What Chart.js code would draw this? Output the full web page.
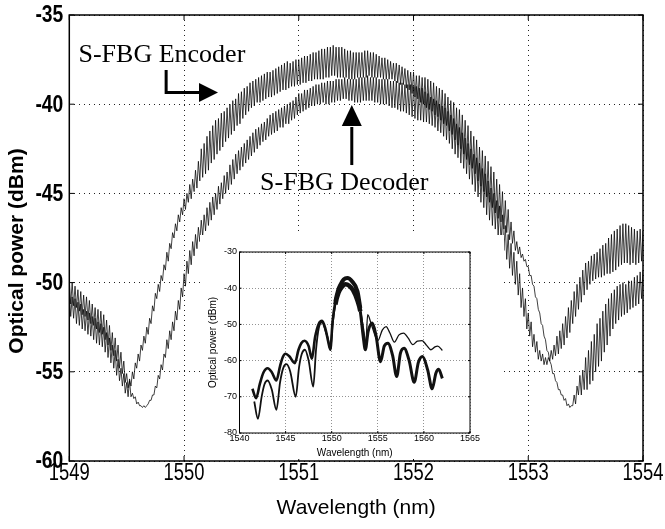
<!DOCTYPE html>
<html>
<head>
<meta charset="utf-8">
<script src="https://cdn.jsdelivr.net/npm/chart.js@4.4.0/dist/chart.umd.min.js"></script>
<style>
  html, body { margin: 0; padding: 0; background: #fff; }
  #wrap { position: relative; width: 665px; height: 529px; }
  #mycanvas { position: absolute; left: 0; top: 0; }
  #insetcanvas { position: absolute; left: 200px; top: 235px; background: #fff; }
</style>
</head>
<body>
<div id="wrap">
  <canvas id="mycanvas" width="665" height="529"></canvas>
  <canvas id="insetcanvas" width="304" height="224"></canvas>
</div>
<script>
// main plot: 1549-1554 nm, samples evenly spaced across the span
var wlStart = 1549;
var wlEnd = 1554;

var encoderDbm = [
  -50.6,-51.9,-50.8,-52.0, -50.9,-52.3,-51.1,-52.4, -51.2,-52.6,-51.5,-52.7, -51.6,-52.9,-51.7,-53.0,
  -51.9,-53.2,-52.0,-53.4, -52.2,-53.5,-52.3,-53.6, -52.5,-53.9,-52.8,-54.2, -53.1,-54.5,-53.5,-54.8,
  -53.8,-55.2,-54.3,-55.5, -54.8,-55.8,-55.1,-56.2, -55.6,-56.4,-55.4,-55.8, -55.0,-55.4,-54.5,-54.8,
  -54.0,-54.4,-53.5,-53.8, -53.0,-53.4,-52.5,-52.9, -52.0,-52.3,-51.3,-51.6, -50.6,-50.9,-50.1,-50.5,
  -49.6,-49.9,-49.0,-49.3, -48.3,-48.8,-47.8,-48.1, -47.2,-47.5,-46.7,-47.1, -46.2,-46.6,-45.8,-46.2,
  -45.3,-45.9,-45.0,-45.5, -44.5,-45.3,-44.2,-44.9, -43.7,-44.7,-43.2,-44.3, -42.5,-44.1,-42.2,-43.9,
  -41.8,-43.7,-41.5,-43.3, -41.2,-43.1,-40.9,-42.8, -40.8,-42.6,-40.5,-42.4, -40.4,-42.1,-40.2,-41.9,
  -40.0,-41.7,-39.8,-41.5, -39.7,-41.2,-39.4,-41.1, -39.3,-40.8,-39.1,-40.6, -39.0,-40.4,-38.8,-40.2,
  -38.7,-40.1,-38.6,-39.9, -38.5,-39.9,-38.4,-39.8, -38.3,-39.7,-38.2,-39.6, -38.2,-39.6,-38.1,-39.5,
  -38.0,-39.4,-37.9,-39.3, -37.8,-39.2,-37.7,-39.2, -37.6,-39.1,-37.7,-39.0, -37.6,-39.0,-37.5,-38.9,
  -37.5,-38.9,-37.4,-38.8, -37.3,-38.8,-37.3,-38.7, -37.2,-38.7,-37.1,-38.6, -37.1,-38.6,-37.0,-38.6,
  -36.9,-38.6,-36.9,-38.5, -36.8,-38.5,-36.8,-38.4, -36.7,-38.4,-36.8,-38.5, -36.8,-38.5,-36.8,-38.5,
  -36.9,-38.5,-37.0,-38.6, -37.0,-38.6,-37.1,-38.6, -37.1,-38.5,-37.1,-38.5, -37.1,-38.5,-37.0,-38.5,
  -37.0,-38.4,-37.1,-38.5, -37.1,-38.5,-37.2,-38.5, -37.3,-38.5,-37.4,-38.6, -37.4,-38.6,-37.5,-38.6,
  -37.6,-38.6,-37.7,-38.7, -37.7,-38.8,-37.8,-38.9, -37.9,-38.9,-38.0,-39.1, -38.1,-39.2,-38.2,-39.4,
  -38.2,-39.6,-38.4,-39.7, -38.4,-39.9,-38.5,-40.0, -38.5,-40.2,-38.6,-40.3, -38.7,-40.4,-38.8,-40.6,
  -39.0,-40.7,-39.1,-40.9, -39.2,-41.1,-39.4,-41.2, -39.6,-41.5,-39.8,-41.7, -39.9,-42.0,-40.2,-42.3,
  -40.3,-42.5,-40.6,-42.8, -40.9,-43.1,-41.2,-43.4, -41.5,-43.6,-41.8,-43.9, -42.0,-44.3,-42.4,-44.6,
  -42.6,-44.9,-42.9,-45.2, -43.2,-45.5,-43.5,-45.8, -43.8,-46.1,-44.2,-46.4, -44.5,-46.6,-44.9,-47.0,
  -45.4,-47.2,-45.9,-47.6, -46.6,-47.8,-47.1,-48.2, -47.7,-48.4,-48.0,-48.6, -48.4,-48.8,-48.7,-49.1,
  -49.1,-49.6,-49.6,-50.1, -50.2,-50.8,-50.9,-51.5, -51.7,-52.3,-52.4,-53.0, -53.2,-53.8,-53.9,-54.4,
  -54.6,-55.1,-55.1,-55.5, -55.6,-56.0,-56.0,-56.3, -56.3,-56.6,-56.5,-56.9, -56.8,-57.0,-56.9,-56.9,
  -56.3,-56.8,-55.8,-56.3, -55.2,-56.3,-54.9,-56.0, -54.2,-56.0,-53.8,-55.7, -53.3,-55.5,-52.9,-55.0,
  -52.3,-54.7,-52.0,-54.4, -51.6,-53.9,-51.2,-53.5, -50.9,-53.0,-50.6,-52.6, -50.4,-52.3,-50.2,-52.1,
  -50.1,-51.9,-50.0,-51.8, -50.1,-51.7,-49.9,-51.5, -49.9,-51.4,-49.7,-51.3, -49.6,-51.2,-49.4,-50.9,
  -49.3
];

var decoderDbm = [
  -49.9,-51.2,-50.0,-51.3, -50.2,-51.4,-50.4,-51.6, -50.5,-51.8,-50.7,-51.9, -50.8,-52.1,-51.0,-52.3,
  -51.2,-52.4,-51.4,-52.6, -51.5,-52.8,-51.6,-52.9, -51.8,-53.2,-52.1,-53.5, -52.4,-53.8,-52.8,-54.1,
  -53.1,-54.4,-53.5,-54.8, -53.9,-55.1,-54.4,-55.6, -55.1,-55.9,-55.5,-56.4, -56.2,-56.5,-56.4,-56.8,
  -56.7,-56.9,-56.9,-57.0, -56.9,-57.0,-56.9,-56.8, -56.6,-56.6,-56.3,-56.3, -55.8,-55.9,-55.2,-55.4,
  -54.6,-54.9,-54.0,-54.2, -53.2,-53.7,-52.7,-53.2, -52.2,-52.7,-51.6,-52.1, -51.0,-51.5,-50.3,-50.8,
  -49.5,-50.2,-48.8,-49.5, -48.2,-49.0,-47.7,-48.5, -47.3,-48.1,-46.9,-47.7, -46.5,-47.4,-46.2,-47.1,
  -45.8,-46.8,-45.5,-46.5, -45.2,-46.2,-45.0,-45.9, -44.6,-45.6,-44.4,-45.3, -44.0,-45.0,-43.8,-44.8,
  -43.4,-44.5,-43.1,-44.2, -42.8,-43.9,-42.6,-43.7, -42.4,-43.5,-42.2,-43.3, -42.0,-43.1,-41.8,-42.9,
  -41.6,-42.7,-41.4,-42.5, -41.3,-42.3,-41.1,-42.1, -41.0,-42.0,-40.8,-41.8, -40.6,-41.7,-40.5,-41.6,
  -40.4,-41.5,-40.3,-41.3, -40.2,-41.3,-40.1,-41.1, -40.0,-41.1,-39.9,-40.9, -39.8,-40.8,-39.6,-40.6,
  -39.4,-40.5,-39.4,-40.4, -39.2,-40.3,-39.2,-40.2, -39.1,-40.1,-39.0,-40.1, -38.9,-40.0,-38.9,-40.0,
  -38.8,-39.9,-38.8,-40.0, -38.7,-40.0,-38.7,-39.9, -38.7,-39.9,-38.6,-39.8, -38.6,-39.8,-38.6,-39.7,
  -38.5,-39.7,-38.6,-39.8, -38.6,-39.8,-38.6,-39.9, -38.6,-39.9,-38.5,-39.9, -38.5,-39.8,-38.5,-39.8,
  -38.4,-39.8,-38.5,-39.8, -38.5,-39.9,-38.5,-39.9, -38.6,-40.0,-38.6,-40.0, -38.6,-40.0,-38.6,-40.1,
  -38.7,-40.2,-38.7,-40.2, -38.7,-40.3,-38.8,-40.4, -38.8,-40.4,-38.9,-40.5, -38.9,-40.6,-38.9,-40.7,
  -39.0,-40.8,-39.0,-40.9, -39.1,-40.9,-39.1,-41.0, -39.3,-41.0,-39.4,-41.1, -39.6,-41.2,-39.7,-41.3,
  -39.8,-41.5,-40.0,-41.6, -40.1,-41.8,-40.2,-42.0, -40.4,-42.2,-40.6,-42.5, -40.8,-42.8,-41.1,-43.0,
  -41.3,-43.3,-41.6,-43.6, -41.9,-43.9,-42.2,-44.2, -42.5,-44.5,-42.8,-44.9, -43.0,-45.2,-43.3,-45.5,
  -43.6,-45.8,-43.9,-46.2, -44.3,-46.5,-44.7,-46.8, -45.0,-47.0,-45.4,-47.4, -45.7,-47.8,-46.2,-48.2,
  -46.8,-48.7,-47.3,-49.2, -47.8,-49.6,-48.3,-50.1, -48.8,-50.7,-49.5,-51.4, -50.3,-51.9,-50.9,-52.6,
  -51.7,-53.0,-52.2,-53.6, -52.9,-53.9,-53.3,-54.3, -53.8,-54.4,-54.0,-54.6, -54.2,-54.6,-54.2,-54.4,
  -53.8,-54.3,-53.5,-54.1, -53.0,-54.0,-52.7,-53.7, -52.3,-53.5,-51.9,-53.1, -51.4,-52.8,-51.0,-52.3,
  -50.5,-51.9,-50.1,-51.5, -49.7,-51.1,-49.3,-50.7, -48.9,-50.4,-48.8,-50.1, -48.5,-49.9,-48.4,-49.8,
  -48.3,-49.7,-48.1,-49.7, -47.9,-49.6,-47.8,-49.5, -47.5,-49.5,-47.3,-49.4, -47.1,-49.3,-47.0,-49.1,
  -46.8,-49.0,-46.7,-48.9, -46.7,-48.9,-46.8,-49.0, -46.9,-48.9,-47.0,-49.0, -47.1,-48.9,-47.0,-48.8,
  -47.1
];

var mainXTicks = [1549, 1550, 1551, 1552, 1553, 1554];
var mainYTicks = [-60, -55, -50, -45, -40, -35];

// inset: full spectrum 1540-1565 nm
var insetWlEnc = [1541.4, 1541.8, 1542.2, 1542.6, 1543.05, 1543.5, 1544.0, 1544.4, 1544.7, 1545.0, 1545.4, 1546.0,
  1546.4, 1546.7, 1547.05, 1547.5, 1547.85, 1548.2, 1548.6, 1548.95, 1549.3, 1549.6, 1549.85, 1550.1, 1550.4,
  1550.7, 1550.95, 1551.3, 1551.7, 1552.2, 1552.8, 1553.1, 1553.5, 1553.7, 1553.9, 1554.3, 1555.0, 1555.5,
  1555.9, 1556.3, 1556.8, 1557.3, 1557.8, 1558.3, 1558.8, 1559.3, 1559.8, 1560.3, 1560.75, 1561.2, 1561.5, 1562.0];
var insetEnc = [-67.8, -70.4, -66.5, -63.3, -62.1, -63.2, -65.5, -61.5, -59.0, -58.1, -58.8, -60.7,
  -57.0, -55.2, -54.5, -56.0, -59.5, -53.5, -49.8, -49.0, -51.0, -54.5, -57.0, -49.0, -43.7,
  -40.5, -39.0, -37.6, -37.2, -38.1, -40.9, -45.5, -52.0, -55.6, -47.3, -50.0, -54.5, -51.5,
  -50.6, -52.3, -54.9, -52.9, -52.4, -53.8, -55.6, -54.6, -54.5, -55.8, -57.0, -56.2, -56.0, -57.2];

var insetWlDec = [1541.6, 1542.0, 1542.4, 1542.7, 1543.05, 1543.5, 1544.0, 1544.4, 1544.75, 1545.1, 1545.5, 1546.1,
  1546.45, 1546.75, 1547.1, 1547.5, 1548.0, 1548.3, 1548.6, 1548.95, 1549.3, 1549.6, 1549.85, 1550.1, 1550.4,
  1550.75, 1551.1, 1551.5, 1551.9, 1552.3, 1552.8, 1553.1, 1553.4, 1553.65, 1553.95, 1554.4, 1554.8, 1555.3,
  1555.7, 1556.1, 1556.6, 1557.05, 1557.45, 1557.85, 1558.4, 1558.95, 1559.4, 1559.85, 1560.4, 1560.9, 1561.3, 1561.6, 1562.0];
var insetDec = [-71.3, -76.1, -70.0, -66.6, -65.5, -68.0, -73.6, -66.0, -62.0, -61.0, -63.0, -70.0,
  -62.0, -58.2, -57.0, -60.0, -67.2, -57.0, -51.0, -49.4, -51.5, -54.0, -57.0, -50.0, -44.5,
  -41.2, -39.7, -38.9, -39.3, -40.5, -43.5, -46.4, -53.0, -57.0, -52.0, -49.6, -53.0, -60.3,
  -56.0, -55.2, -58.5, -64.4, -58.0, -56.6, -60.0, -66.0, -60.5, -58.9, -62.5, -67.8, -63.5, -62.4, -64.9];

var insetXTicks = [1540, 1545, 1550, 1555, 1560, 1565];
var insetYTicks = [-80, -70, -60, -50, -40, -30];

// labels and arrows, in data units (nm, dBm)
var encoderNote = { text: 'S-FBG Encoder', x: 1549.08, y: -37.63 };
var decoderNote = { text: 'S-FBG Decoder', x: 1550.663, y: -44.81 };
var encoderArrow = [[1549.844, -38.08], [1549.844, -39.34], [1550.296, -39.34]];
var decoderArrow = [[1551.462, -43.41], [1551.462, -40.045]];

var sansFont = "'Liberation Sans', Arial, Helvetica, sans-serif";

function evenPoints(vals, a, b) {
  var pts = [];
  for (var i = 0; i < vals.length; i++) {
    pts.push({ x: a + (b - a) * i / (vals.length - 1), y: vals[i] });
  }
  return pts;
}

function pairPoints(xs, ys) {
  var pts = [];
  for (var i = 0; i < xs.length; i++) pts.push({ x: xs[i], y: ys[i] });
  return pts;
}

function setTicks(list) {
  return function(scale) {
    scale.ticks = list.map(function(v) { return { value: v }; });
  };
}

// the original uses a condensed face for the tick numbers
function narrowText(c, text, x, y, align, squeeze) {
  c.save();
  c.translate(x, y);
  c.scale(squeeze, 1);
  c.textAlign = align;
  c.textBaseline = 'middle';
  c.fillText(text, 0, 0);
  c.restore();
}

function arrowHead(ctx, fx, fy, tx, ty, len, half) {
  var ang = Math.atan2(ty - fy, tx - fx);
  var bx = tx - len * Math.cos(ang), by = ty - len * Math.sin(ang);
  ctx.beginPath();
  ctx.moveTo(tx, ty);
  ctx.lineTo(bx + half * Math.sin(ang), by - half * Math.cos(ang));
  ctx.lineTo(bx - half * Math.sin(ang), by + half * Math.cos(ang));
  ctx.closePath();
  ctx.fill();
  return [bx, by];
}

function boxAndTicks(chart, xList, yList, tick, width) {
  var c = chart.ctx, a = chart.chartArea, sx = chart.scales.x, sy = chart.scales.y;
  c.save();
  c.strokeStyle = '#000';
  c.lineWidth = 1;
  xList.forEach(function(v) {
    var p = sx.getPixelForValue(v);
    c.beginPath();
    c.moveTo(p, a.bottom); c.lineTo(p, a.bottom - tick);
    c.moveTo(p, a.top); c.lineTo(p, a.top + tick);
    c.stroke();
  });
  yList.forEach(function(v) {
    var p = sy.getPixelForValue(v);
    c.beginPath();
    c.moveTo(a.left, p); c.lineTo(a.left + tick, p);
    c.moveTo(a.right, p); c.lineTo(a.right - tick, p);
    c.stroke();
  });
  c.lineWidth = width;
  c.strokeRect(a.left, a.top, a.right - a.left, a.bottom - a.top);
  c.restore();
}

var mainDecor = {
  id: 'mainDecor',
  afterDatasetsDraw: function(chart) {
    var c = chart.ctx, a = chart.chartArea, sx = chart.scales.x, sy = chart.scales.y;
    boxAndTicks(chart, mainXTicks, mainYTicks, 5, 1.5);

    c.save();
    c.fillStyle = '#000';
    c.font = '23px ' + sansFont;
    mainXTicks.forEach(function(v) {
      narrowText(c, String(v), sx.getPixelForValue(v), a.bottom + 13, 'center', 0.8);
    });
    c.font = 'bold 23px ' + sansFont;
    mainYTicks.forEach(function(v) {
      narrowText(c, String(v), a.left - 6, sy.getPixelForValue(v) + 1, 'right', 0.84);
    });

    c.strokeStyle = '#000';
    c.font = "26px 'Liberation Serif', 'Times New Roman', serif";
    c.textAlign = 'left';
    c.textBaseline = 'alphabetic';
    c.fillText(encoderNote.text, sx.getPixelForValue(encoderNote.x), sy.getPixelForValue(encoderNote.y));
    c.fillText(decoderNote.text, sx.getPixelForValue(decoderNote.x), sy.getPixelForValue(decoderNote.y));

    var e = encoderArrow.map(function(p) { return [sx.getPixelForValue(p[0]), sy.getPixelForValue(p[1])]; });
    var d = decoderArrow.map(function(p) { return [sx.getPixelForValue(p[0]), sy.getPixelForValue(p[1])]; });
    c.lineWidth = 3;
    var eb = arrowHead(c, e[1][0], e[1][1], e[2][0], e[2][1], 19, 9.5);
    c.beginPath();
    c.moveTo(e[0][0], e[0][1]);
    c.lineTo(e[1][0], e[1][1]);
    c.lineTo(eb[0] + 1, eb[1]);
    c.stroke();
    var db = arrowHead(c, d[0][0], d[0][1], d[1][0], d[1][1], 21, 10);
    c.beginPath();
    c.moveTo(d[0][0], d[0][1]);
    c.lineTo(db[0], db[1] + 1);
    c.stroke();

    // y title sits a little below the plot middle in the original
    c.translate(17.5, (a.top + a.bottom) / 2 + 13);
    c.rotate(-Math.PI / 2);
    c.font = 'bold 21px ' + sansFont;
    c.textAlign = 'center';
    c.textBaseline = 'middle';
    c.fillText('Optical power (dBm)', 0, 0);
    c.restore();
  }
};

var insetDecor = {
  id: 'insetDecor',
  afterDatasetsDraw: function(chart) {
    boxAndTicks(chart, insetXTicks, insetYTicks, 2, 1);
  }
};

// inset traces look heavier where the ripple is dense
function insetWidth(left, lobe, right) {
  return function(ctx) {
    var x = ctx.p0.parsed.x;
    if (x >= 1550.2 && x < 1553.0) return lobe;
    return x < 1550.2 ? left : right;
  };
}

var mainChart = new Chart(document.getElementById('mycanvas'), {
  type: 'line',
  data: {
    datasets: [
      { label: 'S-FBG Encoder', data: evenPoints(encoderDbm, wlStart, wlEnd), borderColor: '#000', borderWidth: 0.75, pointRadius: 0, tension: 0 },
      { label: 'S-FBG Decoder', data: evenPoints(decoderDbm, wlStart, wlEnd), borderColor: '#000', borderWidth: 0.75, pointRadius: 0, tension: 0 }
    ]
  },
  options: {
    responsive: false,
    animation: false,
    devicePixelRatio: 1,
    parsing: false,
    layout: { padding: { top: 15, right: 22, left: 0, bottom: 0 } },
    plugins: { legend: { display: false }, tooltip: { enabled: false } },
    scales: {
      x: {
        type: 'linear', min: 1549, max: 1554,
        afterBuildTicks: setTicks(mainXTicks),
        afterFit: function(s) { s.height = 68; },
        ticks: { display: false },
        grid: { color: '#222', lineWidth: 1, drawTicks: false },
        border: { display: false, dash: [1, 4] },
        title: { display: true, text: 'Wavelength (nm)', color: '#000', padding: { top: 0, bottom: 8 },
                 font: { family: sansFont, size: 21 } }
      },
      y: {
        type: 'linear', min: -60, max: -35,
        afterBuildTicks: setTicks(mainYTicks),
        afterFit: function(s) { s.width = 69.3; },
        ticks: { display: false },
        grid: { color: '#222', lineWidth: 1, drawTicks: false },
        border: { display: false, dash: [1, 4] }
      }
    }
  },
  plugins: [mainDecor]
});

var insetChart = new Chart(document.getElementById('insetcanvas'), {
  type: 'line',
  data: {
    datasets: [
      { label: 'Encoder', data: pairPoints(insetWlEnc, insetEnc), borderColor: '#111', borderWidth: 2.4, pointRadius: 0,
        cubicInterpolationMode: 'monotone', segment: { borderWidth: insetWidth(2.6, 4, 1.3) } },
      { label: 'Decoder', data: pairPoints(insetWlDec, insetDec), borderColor: '#111', borderWidth: 2.4, pointRadius: 0,
        cubicInterpolationMode: 'monotone', segment: { borderWidth: insetWidth(1.8, 4.5, 3) } }
    ]
  },
  options: {
    responsive: false,
    animation: false,
    devicePixelRatio: 1,
    parsing: false,
    layout: { padding: { top: 17, right: 34, left: 0, bottom: 0 } },
    plugins: { legend: { display: false }, tooltip: { enabled: false } },
    scales: {
      x: {
        type: 'linear', min: 1540, max: 1565,
        afterBuildTicks: setTicks(insetXTicks),
        afterFit: function(s) { s.height = 26; },
        ticks: { callback: function(v) { return String(v); }, color: '#000', padding: 1, maxRotation: 0, autoSkip: false,
                 font: { family: sansFont, size: 9, lineHeight: 1 } },
        grid: { color: '#777', lineWidth: 0.8, drawTicks: false },
        border: { display: false, dash: [1, 2] },
        title: { display: true, text: 'Wavelength (nm)', color: '#000', padding: { top: 0, bottom: 0 },
                 font: { family: sansFont, size: 10 } }
      },
      y: {
        type: 'linear', min: -80, max: -30,
        afterBuildTicks: setTicks(insetYTicks),
        afterFit: function(s) { s.width = 39.5; },
        ticks: { callback: function(v) { return String(v); }, color: '#000', padding: 2.5, autoSkip: false,
                 font: { family: sansFont, size: 9, lineHeight: 1 } },
        grid: { color: '#777', lineWidth: 0.8, drawTicks: false },
        border: { display: false, dash: [1, 2] },
        title: { display: true, text: 'Optical power (dBm)', color: '#000', padding: { top: 7, bottom: 0 },
                 font: { family: sansFont, size: 10 } }
      }
    }
  },
  plugins: [insetDecor]
});
</script>
</body>
</html>
